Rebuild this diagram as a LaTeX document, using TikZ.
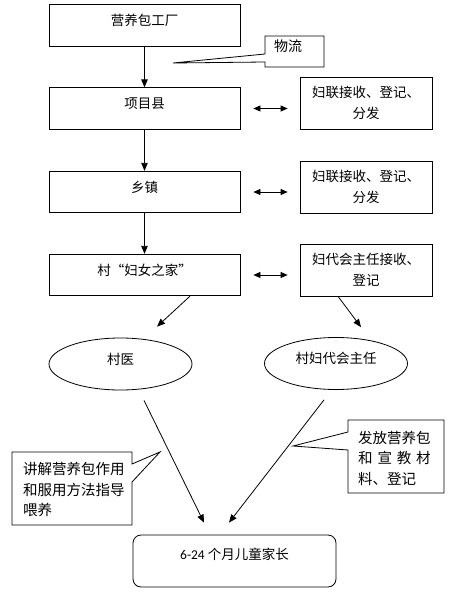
\documentclass[tikz,border=0pt]{standalone}
\usepackage{fontspec}
\newfontfamily\cjk{Noto Sans CJK SC}
\newfontfamily\latfont{Carlito}
\usetikzlibrary{arrows.meta,shapes.geometric}
\newcommand\zbox[2][0pt]{\raisebox{#1}[0pt][0pt]{#2}}
\begin{document}
\begin{tikzpicture}[x=1pt,y=-1pt,
  lw/.style={line width=0.8pt},
  box/.style={draw,lw,minimum width=191pt,minimum height=41.5pt,inner sep=0pt,font=\cjk\fontsize{13.5}{16}\selectfont},
  rbox/.style={draw,lw,minimum width=132pt,minimum height=52pt,inner sep=0pt,align=center,font=\cjk\fontsize{13.5}{21}\selectfont},
  ell/.style={draw,lw,ellipse,minimum width=143pt,minimum height=52pt,inner sep=0pt,font=\cjk\fontsize{13.5}{16}\selectfont},
  arr/.style={lw,-{Triangle[length=8pt,width=6.5pt]}},
  darr/.style={lw,{Triangle[length=7pt,width=6pt]}-{Triangle[length=7pt,width=6pt]},shorten <=13pt,shorten >=12pt},
  ctext/.style={font=\cjk\fontsize{14.5}{20.5}\selectfont,inner sep=0pt,align=left},
  callout/.style={lw}]
\useasboundingbox (0,0) rectangle (462,594);

% main column
\node[box] (b1) at (144.5,25.5) {\zbox{营养包工厂}};
\node[box] (b2) at (144.5,108.5) {\zbox{项目县}};
\node[box] (b3) at (144.5,192) {\zbox{乡镇}};
\node[box] (b4) at (144.5,275) {\zbox{村“妇女之家”}};

% right boxes
\node[rbox] (r2) at (366,103) {妇联接收、登记、\\分发};
\node[rbox] (r3) at (366,187) {妇联接收、登记、\\分发};
\node[rbox] (r4) at (366,270) {妇代会主任接收、\\登记};

% ellipses
\node[ell] (e1) at (120.5,364) {\zbox{村医}};
\node[ell] (e2) at (336,363.5) {\zbox{村妇代会主任}};

% bottom box
\node[draw,lw,rounded corners=8pt,minimum width=203pt,minimum height=52pt,inner sep=0pt,font=\cjk\fontsize{13.5}{16}\selectfont] (par) at (234.5,561) {\zbox[2pt]{{\latfont 6-24} 个月儿童家长}};

% vertical arrows
\draw[arr] (b1) -- (b2);
\draw[arr] (b2) -- (b3);
\draw[arr] (b3) -- (b4);

% double arrows
\draw[darr] (b2.east) -- (b2.east -| r2.west);
\draw[darr] (b3.east) -- (b3.east -| r3.west);
\draw[darr] (b4.east) -- (b4.east -| r4.west);

% diagonal arrows
\draw[arr] ([xshift=45.5pt]b4.south) -- ([xshift=36.5pt,yshift=11pt]e1.north);
\draw[arr] ([xshift=-28pt]r4.south) -- ([xshift=25pt,yshift=10pt]e2.north);
\draw[arr] ([xshift=23.5pt,yshift=-10pt]e1.south) -- ([xshift=-30.5pt,yshift=12pt]par.north);
\draw[arr] ([xshift=-12pt,yshift=-10pt]e2.south) -- ([xshift=-5.5pt,yshift=12pt]par.north);

% callout: 物流
\draw[callout] (265,54) -- (265,36) -- (324,36) -- (324,67) -- (265,67) -- (265,62) -- (173,63) -- cycle;
\node[ctext,font=\cjk\fontsize{14}{16}\selectfont] (wl) at (288,51.5) {\zbox{物流}};

% callout: 讲解
\draw[callout] (132,464) -- (132,452) -- (12,452) -- (12,525) -- (132,525) -- (132,482) -- (160,452) -- cycle;
\node[ctext,anchor=west] (jj) at (23,489.7) {讲解营养包作用\\和服用方法指导\\喂养};

% callout: 发放
\draw[callout] (348,432) -- (348,420) -- (444,420) -- (444,493) -- (348,493) -- (348,450) -- (293,446) -- cycle;
\node[ctext,anchor=west] (ff) at (358,458) {发放营养包\\\makebox[72.5pt]{和\hfill 宣\hfill 教\hfill 材}\\料、登记};
\end{tikzpicture}
\end{document}
